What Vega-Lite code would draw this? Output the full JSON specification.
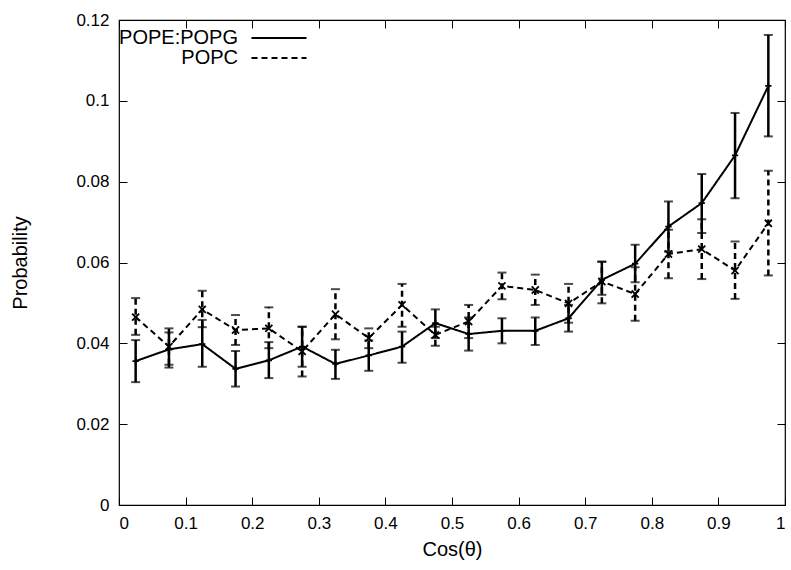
{
  "$schema": "https://vega.github.io/schema/vega-lite/v6.json",
  "width": 666,
  "height": 485,
  "autosize": {"type": "none"},
  "padding": {"left": 119, "top": 20, "right": 6, "bottom": 65},
  "background": "white",
  "data": {
    "values": [
      {"series": "POPE:POPG", "x": 0.025, "v": 0.0356, "lo": 0.0304, "hi": 0.0408},
      {"series": "POPE:POPG", "x": 0.075, "v": 0.0385, "lo": 0.0340, "hi": 0.0427},
      {"series": "POPE:POPG", "x": 0.125, "v": 0.0398, "lo": 0.0342, "hi": 0.0458},
      {"series": "POPE:POPG", "x": 0.175, "v": 0.0337, "lo": 0.0293, "hi": 0.0381},
      {"series": "POPE:POPG", "x": 0.225, "v": 0.0358, "lo": 0.0314, "hi": 0.0403},
      {"series": "POPE:POPG", "x": 0.275, "v": 0.0392, "lo": 0.0342, "hi": 0.0441},
      {"series": "POPE:POPG", "x": 0.325, "v": 0.0349, "lo": 0.0312, "hi": 0.0384},
      {"series": "POPE:POPG", "x": 0.375, "v": 0.0370, "lo": 0.0332, "hi": 0.0407},
      {"series": "POPE:POPG", "x": 0.425, "v": 0.0392, "lo": 0.0352, "hi": 0.0429},
      {"series": "POPE:POPG", "x": 0.475, "v": 0.0450, "lo": 0.0413, "hi": 0.0484},
      {"series": "POPE:POPG", "x": 0.525, "v": 0.0423, "lo": 0.0382, "hi": 0.0464},
      {"series": "POPE:POPG", "x": 0.575, "v": 0.0431, "lo": 0.0400, "hi": 0.0462},
      {"series": "POPE:POPG", "x": 0.625, "v": 0.0431, "lo": 0.0396, "hi": 0.0464},
      {"series": "POPE:POPG", "x": 0.675, "v": 0.0462, "lo": 0.0429, "hi": 0.0495},
      {"series": "POPE:POPG", "x": 0.725, "v": 0.0557, "lo": 0.0520, "hi": 0.0602},
      {"series": "POPE:POPG", "x": 0.775, "v": 0.0597, "lo": 0.0551, "hi": 0.0644},
      {"series": "POPE:POPG", "x": 0.825, "v": 0.0689, "lo": 0.0627, "hi": 0.0751},
      {"series": "POPE:POPG", "x": 0.875, "v": 0.0747, "lo": 0.0673, "hi": 0.0819},
      {"series": "POPE:POPG", "x": 0.925, "v": 0.0865, "lo": 0.0759, "hi": 0.0970},
      {"series": "POPE:POPG", "x": 0.975, "v": 0.1037, "lo": 0.0912, "hi": 0.1163},
      {"series": "POPC", "x": 0.025, "v": 0.0465, "lo": 0.0421, "hi": 0.0512},
      {"series": "POPC", "x": 0.075, "v": 0.0392, "lo": 0.0347, "hi": 0.0437},
      {"series": "POPC", "x": 0.125, "v": 0.0484, "lo": 0.0440, "hi": 0.0530},
      {"series": "POPC", "x": 0.175, "v": 0.0433, "lo": 0.0396, "hi": 0.0470},
      {"series": "POPC", "x": 0.225, "v": 0.0437, "lo": 0.0388, "hi": 0.0489},
      {"series": "POPC", "x": 0.275, "v": 0.0380, "lo": 0.0318, "hi": 0.0441},
      {"series": "POPC", "x": 0.325, "v": 0.0472, "lo": 0.0410, "hi": 0.0534},
      {"series": "POPC", "x": 0.375, "v": 0.0413, "lo": 0.0388, "hi": 0.0437},
      {"series": "POPC", "x": 0.425, "v": 0.0495, "lo": 0.0441, "hi": 0.0547},
      {"series": "POPC", "x": 0.475, "v": 0.0421, "lo": 0.0394, "hi": 0.0441},
      {"series": "POPC", "x": 0.525, "v": 0.0454, "lo": 0.0413, "hi": 0.0495},
      {"series": "POPC", "x": 0.575, "v": 0.0542, "lo": 0.0509, "hi": 0.0575},
      {"series": "POPC", "x": 0.625, "v": 0.0532, "lo": 0.0495, "hi": 0.0570},
      {"series": "POPC", "x": 0.675, "v": 0.0499, "lo": 0.0451, "hi": 0.0547},
      {"series": "POPC", "x": 0.725, "v": 0.0553, "lo": 0.0499, "hi": 0.0602},
      {"series": "POPC", "x": 0.775, "v": 0.0522, "lo": 0.0456, "hi": 0.0588},
      {"series": "POPC", "x": 0.825, "v": 0.0621, "lo": 0.0561, "hi": 0.0681},
      {"series": "POPC", "x": 0.875, "v": 0.0633, "lo": 0.0559, "hi": 0.0707},
      {"series": "POPC", "x": 0.925, "v": 0.0580, "lo": 0.0510, "hi": 0.0652},
      {"series": "POPC", "x": 0.975, "v": 0.0697, "lo": 0.0568, "hi": 0.0827}
    ]
  },
  "config": {
    "font": "Liberation Sans",
    "view": {"stroke": "#000", "strokeWidth": 1.2},
    "axis": {
      "grid": false,
      "domain": false,
      "tickColor": "#000",
      "tickSize": -8,
      "tickWidth": 1,
      "labelFontSize": 17,
      "labelColor": "#000",
      "labelPadding": 18,
      "titleFontSize": 20,
      "titleFontWeight": "normal",
      "titleColor": "#000"
    }
  },
  "resolve": {"axis": {"x": "independent", "y": "independent"}},
  "layer": [
    {
      "mark": {"type": "line", "color": "#000", "strokeWidth": 2},
      "encoding": {
        "x": {
          "field": "x", "type": "quantitative",
          "scale": {"domain": [0, 1], "nice": false},
          "axis": {"orient": "bottom", "values": [0, 0.1, 0.2, 0.3, 0.4, 0.5, 0.6, 0.7, 0.8, 0.9, 1], "format": ".1~f", "title": "Cos(θ)", "titlePadding": 8}
        },
        "y": {
          "field": "v", "type": "quantitative",
          "scale": {"domain": [0, 0.12], "nice": false},
          "axis": {"orient": "left", "values": [0, 0.02, 0.04, 0.06, 0.08, 0.1, 0.12], "format": ".2~f", "title": "Probability", "titlePadding": 45}
        },
        "strokeDash": {
          "field": "series", "type": "nominal",
          "scale": {"domain": ["POPE:POPG", "POPC"], "range": [[1, 0], [6, 4]]},
          "legend": {
            "orient": "none", "legendX": 150, "legendY": 8, "title": null,
            "symbolType": "M-5,0H5", "symbolSize": 121, "symbolStrokeWidth": 2,
            "symbolStrokeColor": "#000", "labelAlign": "right", "labelOffset": -51,
            "labelFontSize": 20, "labelColor": "#000", "rowPadding": -5, "padding": 0
          }
        }
      }
    },
    {
      "mark": {"type": "rule", "color": "#000", "strokeWidth": 2.5},
      "encoding": {
        "x": {
          "field": "x", "type": "quantitative",
          "axis": {"orient": "top", "values": [0, 0.1, 0.2, 0.3, 0.4, 0.5, 0.6, 0.7, 0.8, 0.9, 1], "labels": false, "title": null}
        },
        "y": {
          "field": "lo", "type": "quantitative",
          "axis": {"orient": "right", "values": [0, 0.02, 0.04, 0.06, 0.08, 0.1, 0.12], "labels": false, "title": null}
        },
        "y2": {"field": "hi"},
        "strokeDash": {"field": "series", "type": "nominal"}
      }
    },
    {
      "mark": {"type": "tick", "orient": "horizontal", "color": "#000", "size": 9, "thickness": 2},
      "encoding": {
        "x": {"field": "x", "type": "quantitative", "axis": null},
        "y": {"field": "lo", "type": "quantitative", "axis": null}
      }
    },
    {
      "mark": {"type": "tick", "orient": "horizontal", "color": "#000", "size": 9, "thickness": 2},
      "encoding": {
        "x": {"field": "x", "type": "quantitative", "axis": null},
        "y": {"field": "hi", "type": "quantitative", "axis": null}
      }
    },
    {
      "transform": [{"filter": "datum.series === 'POPE:POPG'"}],
      "mark": {"type": "point", "shape": "M-1,0H1M0,-1V1", "filled": false, "color": "#000", "strokeWidth": 1.8, "size": 40, "opacity": 1},
      "encoding": {
        "x": {"field": "x", "type": "quantitative", "axis": null},
        "y": {"field": "v", "type": "quantitative", "axis": null}
      }
    },
    {
      "transform": [{"filter": "datum.series === 'POPC'"}],
      "mark": {"type": "point", "shape": "M-1,-1L1,1M-1,1L1,-1", "filled": false, "color": "#000", "strokeWidth": 1.8, "size": 50, "opacity": 1},
      "encoding": {
        "x": {"field": "x", "type": "quantitative", "axis": null},
        "y": {"field": "v", "type": "quantitative", "axis": null}
      }
    }
  ]
}
